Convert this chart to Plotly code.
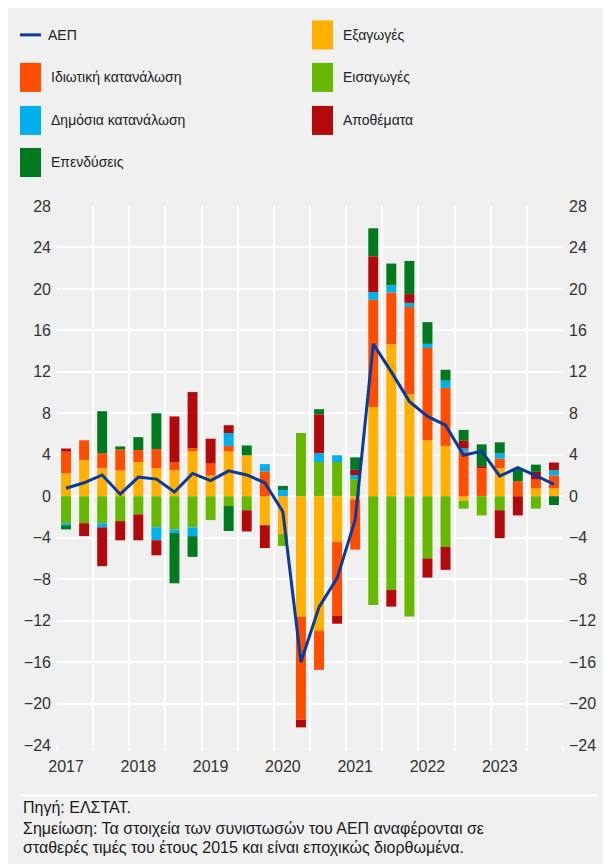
import plotly.graph_objects as go

quarters = ["2017Q1", "2017Q2", "2017Q3", "2017Q4",
            "2018Q1", "2018Q2", "2018Q3", "2018Q4",
            "2019Q1", "2019Q2", "2019Q3", "2019Q4",
            "2020Q1", "2020Q2", "2020Q3", "2020Q4",
            "2021Q1", "2021Q2", "2021Q3", "2021Q4",
            "2022Q1", "2022Q2", "2022Q3", "2022Q4",
            "2023Q1", "2023Q2", "2023Q3", "2023Q4"]
year_labels = ["2017", "2018", "2019", "2020", "2021", "2022", "2023"]

exports = [2.2, 3.5, 2.7, 2.5, 3.3, 2.7, 2.5, 4.35, 2.0, 4.35, 3.95, -2.8, -3.65, -11.6,
           -13.0, -4.4, -0.3, 8.6, 14.65, 9.85, 5.4, 4.85, -0.45, 0.0, 2.7, 0.0, 0.75, 0.75]
private_cons = [2.1, 1.9, 1.45, 2.0, 1.15, 1.85, 0.75, 0.3, 1.15, 0.5, 0.0, 2.4, 0.0, -9.95,
                -3.75, -7.15, -4.85, 10.35, 5.0, 8.4, 8.9, 5.6, 4.3, 2.7, 0.95, 1.45, 0.85, 1.25]
imports = [-2.6, -2.6, -2.6, -2.4, -1.75, -3.0, -3.2, -3.0, -2.3, -0.95, -1.35, 0.0, -1.15, 6.1,
           3.3, 3.3, 1.65, -10.5, -9.05, -11.6, -6.0, -4.9, -0.75, -1.85, -1.35, 0.0, -1.2, 0.0]
public_cons = [-0.2, 0.0, -0.4, 0.0, 0.0, -1.25, -0.35, -0.85, 0.0, 1.25, 0.0, 0.7, 0.6, 0.0,
               0.85, 0.65, 0.4, 0.75, 0.7, 0.4, 0.4, 0.7, 0.3, 0.0, 0.5, 0.0, 0.0, 0.5]
stocks = [0.3, -1.25, -3.75, -1.85, -2.5, -1.45, 4.45, 5.4, 2.4, 0.75, -2.05, -2.2, 0.0, -0.75,
          3.75, -0.75, 0.5, 3.45, -1.6, 0.85, -1.85, -2.2, 0.75, 0.2, -2.7, -1.85, 0.75, 0.75]
investment = [-0.4, 0.0, 4.05, 0.3, 1.25, 3.45, -4.85, -2.0, 0.0, -2.4, 0.95, 0.0, 0.4, 0.0,
              0.5, 0.0, 1.2, 2.7, 2.1, 3.2, 2.1, 1.05, 1.05, 2.1, 1.05, 1.25, 0.7, -0.85]
gdp = [0.77, 1.3, 2.05, 0.2, 1.85, 1.65, 0.4, 2.2, 1.5, 2.45, 2.05, 1.3, -1.5, -16.0,
       -10.7, -7.9, -2.3, 14.7, 12.0, 9.15, 7.7, 6.85, 3.95, 4.35, 1.95, 2.75, 2.0, 1.15]

y_ticks = [-24, -20, -16, -12, -8, -4, 0, 4, 8, 12, 16, 20, 24, 28]

C_EXP = "#FFB000"
C_PRIV = "#FF4E00"
C_PUB = "#00B0EC"
C_INV = "#00791F"
C_IMP = "#66B800"
C_STK = "#B20A0A"
C_GDP = "#0B3A9C"
BG = "#F0F0F0"
FONT = "Liberation Sans, Arial, sans-serif"

x = list(range(len(quarters)))
tickvals = [quarters.index(y + "Q1") for y in year_labels]

fig = go.Figure()
series = [
    ("Εξαγωγές", exports, C_EXP),
    ("Ιδιωτική κατανάλωση", private_cons, C_PRIV),
    ("Εισαγωγές", imports, C_IMP),
    ("Δημόσια κατανάλωση", public_cons, C_PUB),
    ("Αποθέματα", stocks, C_STK),
    ("Επενδύσεις", investment, C_INV),
]
for name, vals, col in series:
    fig.add_trace(go.Bar(x=x, y=vals, name=name, marker=dict(color=col, line=dict(width=0)),
                         customdata=quarters, hovertemplate="%{customdata}: %{y}<extra>" + name + "</extra>",
                         showlegend=False, yaxis="y"))
fig.add_trace(go.Scatter(x=x, y=gdp, name="ΑΕΠ", mode="lines",
                         line=dict(color=C_GDP, width=3), customdata=quarters,
                         hovertemplate="%{customdata}: %{y}<extra>ΑΕΠ</extra>",
                         showlegend=False, yaxis="y2"))

# Page geometry (the page places the figure 8px from the left/top edge)
OFF = 8
PAGE_W, PAGE_H = 611, 864
W, H = PAGE_W - OFF, PAGE_H - OFF
# plot area in page pixels
PL, PR, PT, PB = 57, 563, 206, 744.6


def px(v):
    return (v - PL) / (PR - PL)


def py(v):
    return (PB - v) / (PB - PT)


shapes = []
annotations = []
# separator line above the notes
shapes.append(dict(type="line", xref="paper", yref="paper", x0=px(21), x1=px(598), y0=py(795), y1=py(795),
                   line=dict(color="white", width=2)))

# custom legend (page pixel coordinates)
legend_items = [
    ("ΑΕΠ", "line", C_GDP, 20, 35),
    ("Ιδιωτική κατανάλωση", "box", C_PRIV, 20, 77.5),
    ("Δημόσια κατανάλωση", "box", C_PUB, 20, 120.5),
    ("Επενδύσεις", "box", C_INV, 20, 162.5),
    ("Εξαγωγές", "box", C_EXP, 312, 35),
    ("Εισαγωγές", "box", C_IMP, 312, 77.5),
    ("Αποθέματα", "box", C_STK, 312, 120.5),
]
for label, kind, col, x0, yc in legend_items:
    if kind == "line":
        shapes.append(dict(type="line", xref="paper", yref="paper", x0=px(x0), x1=px(x0 + 21),
                           y0=py(yc), y1=py(yc), line=dict(color=col, width=3)))
        tx = x0 + 26
    else:
        shapes.append(dict(type="rect", xref="paper", yref="paper", x0=px(x0), x1=px(x0 + 21),
                           y0=py(yc - 14.5), y1=py(yc + 14.5), fillcolor=col, line=dict(width=0)))
        tx = x0 + 29
    annotations.append(dict(text=label, xref="paper", yref="paper", x=px(tx), y=py(yc),
                            xanchor="left", yanchor="middle", showarrow=False,
                            font=dict(family=FONT, size=14, color="#222222")))

notes = [
    ("Πηγή: ΕΛΣΤΑΤ.", 807),
    ("Σημείωση: Τα στοιχεία των συνιστωσών του ΑΕΠ αναφέρονται σε", 828),
    ("σταθερές τιμές του έτους 2015 και είναι εποχικώς διορθωμένα.", 847),
]
for txt, yc in notes:
    annotations.append(dict(text=txt, xref="paper", yref="paper", x=px(21), y=py(yc),
                            xanchor="left", yanchor="middle", showarrow=False,
                            font=dict(family=FONT, size=16, color="#1a1a1a")))

axis_font = dict(family=FONT, size=16, color="#333333")
fig.update_layout(
    width=W, height=H,
    margin=dict(l=PL - OFF, r=PAGE_W - PR, t=PT - OFF, b=PAGE_H - PB, pad=0),
    paper_bgcolor=BG, plot_bgcolor=BG,
    barmode="relative", bargap=0.45,
    showlegend=False,
    font=dict(family=FONT, color="#333333"),
    xaxis=dict(range=[-0.5, len(quarters) - 0.5], tickmode="array", tickvals=tickvals, ticktext=year_labels,
               showgrid=False, zeroline=False, showline=False, ticks="", tickfont=axis_font,
               ticklabelstandoff=10,
               minor=dict(tick0=-0.5, dtick=2, showgrid=True, gridcolor="white", gridwidth=2,
                          ticks="outside", ticklen=5, tickcolor="white", tickwidth=2),
               fixedrange=True),
    yaxis=dict(range=[-24, 28], tickmode="array", tickvals=y_ticks, showgrid=True, gridcolor="white",
               gridwidth=2, zeroline=False, showline=False, ticks="", tickfont=axis_font,
               ticklabelstandoff=5, fixedrange=True),
    yaxis2=dict(range=[-24, 28], tickmode="array", tickvals=y_ticks, overlaying="y", side="right",
                showgrid=False, zeroline=False, showline=False, ticks="", tickfont=axis_font,
                ticklabelstandoff=5, fixedrange=True),
    shapes=shapes,
    annotations=annotations,
)

fig.write_html("out.html")
